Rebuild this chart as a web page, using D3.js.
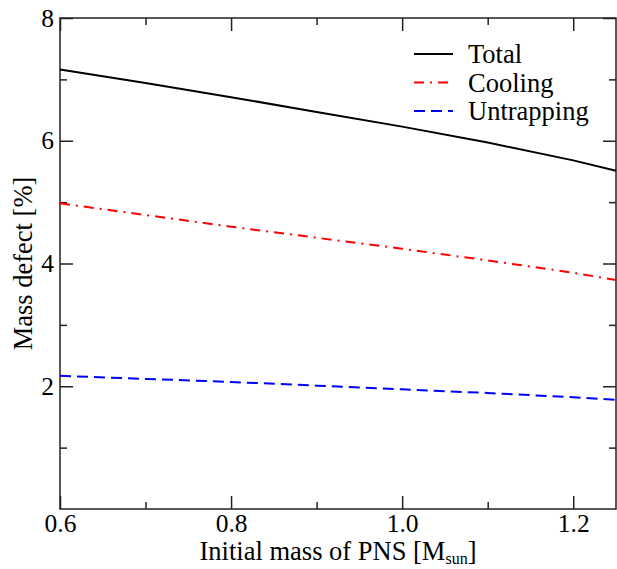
<!DOCTYPE html>
<html>
<head>
<meta charset="utf-8">
<script src="https://cdn.jsdelivr.net/npm/d3@7"></script>
<style>
  body { margin: 0; background: #fff; }
  svg { display: block; font-family: "Liberation Serif", "DejaVu Serif", serif; }
</style>
</head>
<body>
<div id="chart"></div>
<script>
// data
const masses     = [0.6, 0.7, 0.8, 0.9, 1.0, 1.1, 1.2, 1.25];
const totalVals  = [7.16, 6.94, 6.71, 6.47, 6.23, 5.97, 5.68, 5.51];
const coolVals   = [4.98, 4.79, 4.60, 4.42, 4.24, 4.05, 3.85, 3.73];
const untrapVals = [2.17, 2.12, 2.07, 2.01, 1.95, 1.89, 1.82, 1.78];

const xMajor = [0.6, 0.8, 1.0, 1.2];
const xMinor = [0.7, 0.9, 1.1];
const yMajor = [2, 4, 6, 8];
const yMinor = [1, 3, 5, 7];

const series = [
  { name: "Total",      values: totalVals,  color: "#000000", dash: null },
  { name: "Cooling",    values: coolVals,   color: "#ff0000", dash: "10,6,2,6" },
  { name: "Untrapping", values: untrapVals, color: "#0000ff", dash: "11,6" }
];

const W = 617, H = 569;
const margin = { top: 18, right: 1, bottom: 60, left: 60 };
const width = W - margin.left - margin.right;
const height = H - margin.top - margin.bottom;
const fs = 26.5;
const serif = "'Liberation Serif', 'DejaVu Serif', serif";

const svg = d3.select("#chart").append("svg")
  .attr("width", W).attr("height", H);

const g = svg.append("g")
  .attr("transform", "translate(" + margin.left + "," + margin.top + ")");

const x = d3.scaleLinear().domain([0.6, 1.25]).range([0, width]);
const y = d3.scaleLinear().domain([0, 8]).range([height, 0]);

function styleAxis(sel) {
  sel.attr("font-family", serif).attr("font-size", 25.5);
  sel.select(".domain").remove();
  sel.selectAll(".tick line").attr("stroke", "#222").attr("stroke-width", 1.5);
  sel.selectAll(".tick text").attr("fill", "#000")
    .style("font-family", serif);
}

// bottom
g.append("g").attr("transform", "translate(0," + height + ")")
  .call(d3.axisBottom(x).tickValues(xMajor).tickFormat(d3.format(".1f")).tickSize(-13).tickPadding(5))
  .call(styleAxis);
g.append("g").attr("transform", "translate(0," + height + ")")
  .call(d3.axisBottom(x).tickValues(xMinor).tickFormat("").tickSize(-7))
  .call(styleAxis);
// top
g.append("g")
  .call(d3.axisTop(x).tickValues(xMajor).tickFormat("").tickSize(-13))
  .call(styleAxis);
g.append("g")
  .call(d3.axisTop(x).tickValues(xMinor).tickFormat("").tickSize(-7))
  .call(styleAxis);
// left
g.append("g")
  .call(d3.axisLeft(y).tickValues(yMajor).tickFormat(d3.format("d")).tickSize(-13).tickPadding(6))
  .call(styleAxis);
g.append("g")
  .call(d3.axisLeft(y).tickValues(yMinor).tickFormat("").tickSize(-7))
  .call(styleAxis);
// right
g.append("g").attr("transform", "translate(" + width + ",0)")
  .call(d3.axisRight(y).tickValues(yMajor).tickFormat("").tickSize(-13))
  .call(styleAxis);
g.append("g").attr("transform", "translate(" + width + ",0)")
  .call(d3.axisRight(y).tickValues(yMinor).tickFormat("").tickSize(-7))
  .call(styleAxis);

// frame
g.append("rect")
  .attr("x", 0).attr("y", 0).attr("width", width).attr("height", height)
  .attr("fill", "none").attr("stroke", "#222").attr("stroke-width", 1.5);

// lines
const line = d3.line()
  .x((d, i) => x(masses[i]))
  .y(d => y(d));

series.forEach(s => {
  g.append("path")
    .attr("d", line(s.values))
    .attr("fill", "none")
    .attr("stroke", s.color)
    .attr("stroke-width", 2)
    .attr("stroke-dasharray", s.dash);
});

// legend
const legend = g.append("g").attr("transform", "translate(354,36)");
series.forEach((s, i) => {
  const row = legend.append("g").attr("transform", "translate(0," + (i * 28.5) + ")");
  row.append("line")
    .attr("x1", 0).attr("x2", 39).attr("y1", 0).attr("y2", 0)
    .attr("stroke", s.color).attr("stroke-width", 2)
    .attr("stroke-dasharray", s.dash);
  row.append("text")
    .attr("x", 54).attr("y", 9)
    .style("font-family", serif)
    .style("font-size", fs + "px")
    .text(s.name);
});

// axis titles
const xt = svg.append("text")
  .attr("x", margin.left + width / 2)
  .attr("y", 560)
  .attr("text-anchor", "middle")
  .style("font-family", serif)
  .style("font-size", fs + "px");
xt.append("tspan").text("Initial mass of PNS [M");
xt.append("tspan").attr("dy", 4).style("font-size", "16px").text("sun");
xt.append("tspan").attr("dy", -4).text("]");

svg.append("text")
  .attr("transform", "translate(32," + (margin.top + height / 2) + ") rotate(-90)")
  .attr("text-anchor", "middle")
  .style("font-family", serif)
  .style("font-size", fs + "px")
  .text("Mass defect [%]");
</script>
</body>
</html>
